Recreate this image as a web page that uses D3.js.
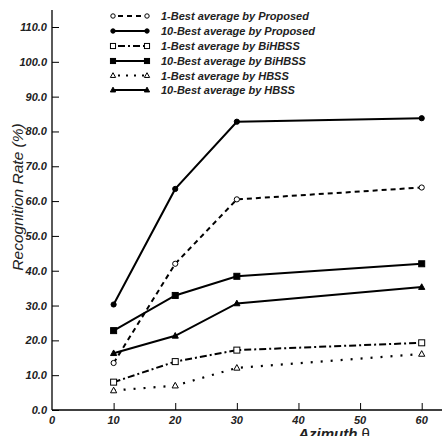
<!DOCTYPE html>
<html><head><meta charset="utf-8">
<script src="https://cdn.jsdelivr.net/npm/d3@7"></script>
<style>body{margin:0;background:#fff;}svg{display:block;font-family:"Liberation Sans",Arial,sans-serif;}</style>
</head><body>
<svg id="c" width="442" height="436"></svg>
<script>
const azimuths = [10, 20, 30, 60];
const proposed1 = [13.5, 42.0, 60.5, 63.9];
const proposed10 = [30.3, 63.5, 82.8, 83.8];
const bihbss1 = [8.0, 13.9, 17.2, 19.3];
const bihbss10 = [22.8, 32.9, 38.4, 42.0];
const hbss1 = [5.6, 7.0, 12.1, 16.1];
const hbss10 = [16.3, 21.3, 30.6, 35.3];
const seriesNames = ["1-Best average by Proposed","10-Best average by Proposed","1-Best average by BiHBSS","10-Best average by BiHBSS","1-Best average by HBSS","10-Best average by HBSS"];
const xTicks = [0,10,20,30,40,50,60];
const yTicks = [0,10,20,30,40,50,60,70,80,90,100,110];

const series = [
  {name: seriesNames[0], values: proposed1, dash: "5,4", marker: "circle", fill: false},
  {name: seriesNames[1], values: proposed10, dash: null, marker: "circle", fill: true},
  {name: seriesNames[2], values: bihbss1, dash: "7,3,2,3", marker: "square", fill: false},
  {name: seriesNames[3], values: bihbss10, dash: null, marker: "square", fill: true},
  {name: seriesNames[4], values: hbss1, dash: "2,8", marker: "triangle", fill: false},
  {name: seriesNames[5], values: hbss10, dash: null, marker: "triangle", fill: true}
];

const svg = d3.select("#c");
const x = d3.scaleLinear().domain([0, 60]).range([52, 421.7]);
const y = d3.scaleLinear().domain([0, 110]).range([410, 27]);
const txt = "#222";

svg.append("line").attr("x1",52).attr("x2",52).attr("y1",10).attr("y2",410).attr("stroke","#000").attr("stroke-width",1.3);
svg.append("line").attr("x1",52).attr("x2",442).attr("y1",410).attr("y2",410).attr("stroke","#000").attr("stroke-width",1.3);

const yAxis = d3.axisRight(y).tickValues(yTicks).tickSize(7).tickFormat("");
svg.append("g").attr("transform","translate(52,0)").call(yAxis).call(g=>{g.select(".domain").remove();g.selectAll("line").attr("stroke","#000").attr("stroke-width",1);});
const xAxis = d3.axisTop(x).tickValues(xTicks.filter(d=>d>0)).tickSize(7).tickFormat("");
svg.append("g").attr("transform","translate(0,410)").call(xAxis).call(g=>{g.select(".domain").remove();g.selectAll("line").attr("stroke","#000").attr("stroke-width",1);});

svg.append("g").selectAll("text").data(yTicks).join("text")
  .attr("x",47).attr("y",d=>y(d)+4).attr("text-anchor","end")
  .attr("font-size",11).attr("font-weight","bold").attr("font-style","italic").attr("fill",txt)
  .text(d=>d3.format(".1f")(d));
svg.append("g").selectAll("text").data(xTicks).join("text")
  .attr("x",d=>x(d)).attr("y",424).attr("text-anchor","middle")
  .attr("font-size",11).attr("font-weight","bold").attr("font-style","italic").attr("fill",txt)
  .text(d=>d);

svg.append("text").attr("transform","translate(23,197) rotate(-90)").attr("text-anchor","middle")
  .attr("font-size",15.5).attr("font-style","italic").attr("fill",txt)
  .text("Recognition Rate (%)");
const xt = svg.append("text").attr("x",334).attr("y",439).attr("text-anchor","middle")
  .attr("font-size",15).attr("font-style","italic").attr("fill",txt);
xt.append("tspan").attr("font-weight","bold").text("Azimuth ");
xt.append("tspan").attr("font-style","normal").text("θ");

function drawMarker(g, type, cx, cy, fill, s) {
  s = s || 1;
  let el;
  if (type === "circle") el = g.append("circle").attr("cx",cx).attr("cy",cy).attr("r",2.6*s);
  else if (type === "square") el = g.append("rect").attr("x",cx-3*s).attr("y",cy-3*s).attr("width",6*s).attr("height",6*s);
  else el = g.append("path").attr("d",`M${cx},${cy-3.3*s}L${cx+3.1*s},${cy+2.3*s}L${cx-3.1*s},${cy+2.3*s}Z`);
  el.attr("fill", fill ? "#000" : "#fff").attr("stroke","#000").attr("stroke-width",1);
}

const line = d3.line().x(d=>x(d[0])).y(d=>y(d[1]));
series.forEach(s => {
  const pts = azimuths.map((a,i)=>[a, s.values[i]]);
  const p = svg.append("path").attr("d", line(pts)).attr("fill","none").attr("stroke","#000")
    .attr("stroke-width", s.dash === "2,8" ? 2.2 : 2);
  if (s.dash) p.attr("stroke-dasharray", s.dash);
  const g = svg.append("g");
  pts.forEach(d => drawMarker(g, s.marker, x(d[0]), y(d[1]), s.fill));
});

const legY = [16, 31, 46, 61, 75.5, 90];
series.forEach((s,i) => {
  const ly = legY[i];
  const g = svg.append("g");
  const l = g.append("line").attr("x1",114).attr("x2",146).attr("y1",ly).attr("y2",ly).attr("stroke","#000").attr("stroke-width",2);
  if (s.dash) l.attr("stroke-dasharray", s.dash === "2,8" ? "2,6" : s.dash).attr("x1",118).attr("x2",144);
  drawMarker(g, s.marker, 113, ly, s.fill, 0.85);
  drawMarker(g, s.marker, 147, ly, s.fill, 0.85);
  g.append("text").attr("x",161).attr("y",ly+4).attr("font-size",11).attr("font-weight","bold").attr("font-style","italic").attr("fill",txt).text(s.name);
});
</script>
</body></html>
